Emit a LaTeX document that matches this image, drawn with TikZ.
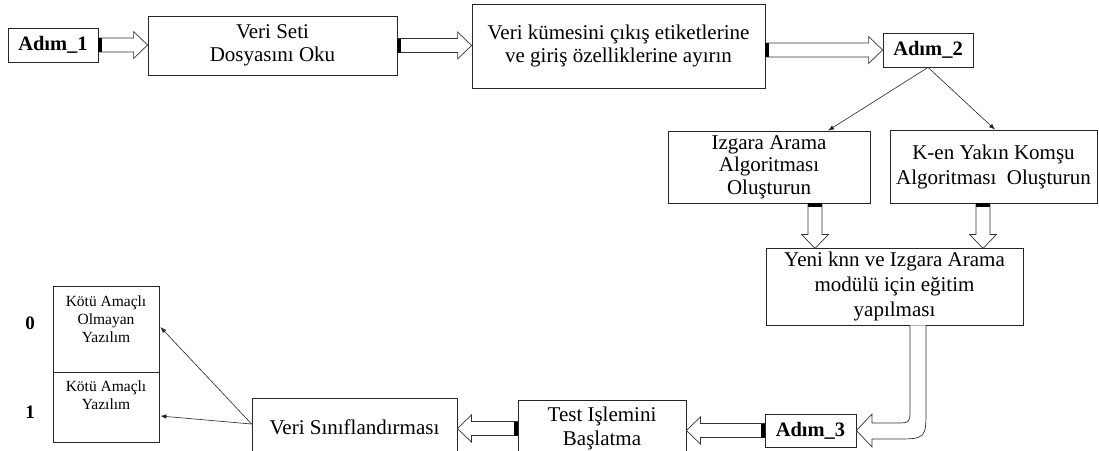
\documentclass[tikz,border=0pt]{standalone}
\usepackage{fontspec}
\setmainfont{Liberation Serif}
\usetikzlibrary{calc,arrows.meta}
\tikzset{
 box/.style={draw=black!85, line width=0.8pt, fill=white, rectangle, inner sep=0pt, align=center, font=\fontsize{21}{23.5}\selectfont},
 stepbox/.style={box, font=\fontsize{20.5}{23}\selectfont\bfseries},
 plainbox/.style={draw=black!85, line width=0.8pt, rectangle, inner sep=0pt},
 blockarr/.style={draw=black!80, line width=0.7pt, fill=white, line join=miter},
 thinarrow/.style={draw=black!85, line width=0.6pt, -{Latex[length=6pt,width=4.5pt]}},
 smalltext/.style={inner sep=0pt, align=center, font=\fontsize{15.5}{18}\selectfont},
 lbl/.style={inner sep=0pt, font=\fontsize{19}{22}\selectfont\bfseries},
}
\newcommand{\blockarrow}[2]{%
  \coordinate (ba-s) at #1;
  \coordinate (ba-e) at #2;
  \coordinate (ba-h) at ($(ba-e)!14pt!(ba-s)$);
  \coordinate (ba-t) at ($(ba-s)!4pt!(ba-e)$);
  \draw[blockarr] ($(ba-s)!7pt!90:(ba-e)$) -- ($(ba-h)!7pt!-90:(ba-s)$) -- ($(ba-h)!13.5pt!-90:(ba-s)$) -- (ba-e) -- ($(ba-h)!13.5pt!90:(ba-s)$) -- ($(ba-h)!7pt!90:(ba-s)$) -- ($(ba-s)!7pt!-90:(ba-e)$) -- cycle;
  \fill ($(ba-s)!7pt!90:(ba-e)$) -- ($(ba-t)!7pt!-90:(ba-s)$) -- ($(ba-t)!7pt!90:(ba-s)$) -- ($(ba-s)!7pt!-90:(ba-e)$) -- cycle;
}
\begin{document}
\begin{tikzpicture}[x=1pt,y=-1pt]
\fill[white] (0,0) rectangle (1099,450);
\useasboundingbox (0,0) rectangle (1099,450);

% nodes
\node[stepbox, minimum width=90, minimum height=34] (adim1) at (53,45) {Adım\_1};
\node[box, minimum width=249, minimum height=59] (veriseti) at (272.5,45.5) {Veri Seti\\Dosyasını Oku};
\node[box, minimum width=293, minimum height=84] (kume) at (618.5,46) {Veri kümesini çıkış etiketlerine\\ve giriş özelliklerine\ ayırın};
\node[stepbox, minimum width=90, minimum height=34] (adim2) at (928,50) {Adım\_2};
\node[box, minimum width=202, minimum height=72, font=\fontsize{21}{22.5}\selectfont] (izgara) at (769,167) {Izgara Arama\\Algoritması\\Oluşturun};
\node[box, minimum width=207, minimum height=73, font=\fontsize{21}{25}\selectfont] (ken) at (993.5,166.5) {K-en Yakın Komşu\\Algoritması\ \ Oluşturun};
\node[box, minimum width=257, minimum height=77, font=\fontsize{21}{25}\selectfont] (yeni) at (894.5,286.5) {Yeni knn ve Izgara Arama\\modülü için eğitim\\yapılması};
\node[stepbox, minimum width=91, minimum height=33] (adim3) at (810.5,430.5) {Adım\_3};
\node[box, minimum width=168, minimum height=57] (test) at (602,428.5) {Test Işlemini\\Başlatma};
\node[box, minimum width=205, minimum height=58] (vs) at (354.5,427) {Veri Sınıflandırması};
\node[plainbox, minimum width=106, minimum height=86] (mal0) at (106,329) {};
\node[plainbox, minimum width=106, minimum height=70] (mal1) at (106,407) {};
\node[smalltext, anchor=north] (t0) at (106,296) {Kötü Amaçlı\\Olmayan\\Yazılım};
\node[smalltext, anchor=north] (t1) at (106,381) {Kötü Amaçlı\\Yazılım};
\node[lbl] (zero) at (30,323) {0};
\node[lbl] (one) at (30,412) {1};

% block arrows
\blockarrow{(adim1.east)}{(veriseti.west |- adim1.east)}
\blockarrow{(veriseti.east)}{(kume.west |- veriseti.east)}
\blockarrow{(kume.east |- adim2.west)}{(adim2.west)}
\blockarrow{($(izgara.south)+(46,0)$)}{($(izgara.south)+(46,45)$)}
\blockarrow{($(ken.south)+(-10.5,0)$)}{($(ken.south)+(-10.5,45)$)}
\blockarrow{(adim3.west)}{(test.east |- adim3.west)}
\blockarrow{(test.west)}{(vs.east |- test.west)}

% curved block arrow
\draw[blockarr] ($(yeni.south)+(15.5,0)$) -- (910,408) .. controls (910,423) .. (895,423) -- (872,423) -- (872,414) -- (adim3.east) -- (872,447) -- (872,439) -- (895,439) .. controls (926,439) .. (926,408) -- ($(yeni.south)+(31.5,0)$);

% thin arrows
\draw[thinarrow] (adim2.south) -- ($(izgara.north)+(59,0)$);
\draw[thinarrow] (adim2.south) -- ($(ken.north)+(1.5,0)$);
\draw[thinarrow] ($(vs.west)+(0,-3)$) -- ($(mal0.east)+(1,-2)$);
\draw[thinarrow] ($(vs.west)+(0,-3)$) -- ($(mal1.east)+(1,9)$);
\end{tikzpicture}
\end{document}
